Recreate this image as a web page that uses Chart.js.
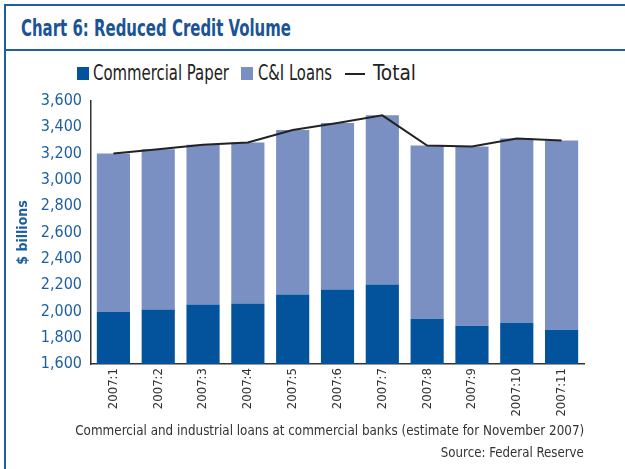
<!DOCTYPE html>
<html>
<head>
<meta charset="utf-8">
<script src="https://cdn.jsdelivr.net/npm/chart.js@4.4.0/dist/chart.umd.min.js"></script>
<style>
  html, body { margin: 0; padding: 0; background: #fff; }
  #page {
    position: relative; width: 625px; height: 469px; overflow: hidden;
    font-family: "Liberation Sans Narrow", "DejaVu Sans Condensed", sans-serif;
  }
  .frame-top { position: absolute; left: 4px; top: 4px; width: 621px; height: 2px; background: #1c5fa5; }
  .frame-left { position: absolute; left: 4px; top: 4px; width: 2px; height: 465px; background: #1c5fa5; }
  .frame-rule { position: absolute; left: 4px; top: 49px; width: 621px; height: 2px; background: #1c5fa5; }
  .txt { position: absolute; white-space: nowrap; transform-origin: left center; }
  #title { left: 21px; top: 15px; font-weight: bold; font-size: 23px; color: #1b5496; }
  .leg { top: 60px; font-size: 22px; color: #222; }
  .sw { position: absolute; top: 67px; width: 12px; height: 13px; }
  .ln { position: absolute; left: 345px; top: 73px; width: 20px; height: 2px; background: #222; }
  .note { font-size: 14.5px; color: #333; transform-origin: right center; }
  #chart-wrap { position: absolute; left: 0; top: 0; width: 625px; height: 469px; }
</style>
</head>
<body>
<div id="page">
  <div class="frame-top"></div>
  <div class="frame-left"></div>
  <div class="frame-rule"></div>
  <div id="title" class="txt" data-w="270">Chart 6: Reduced Credit Volume</div>

  <div class="sw" style="left:77px;background:#02529c"></div>
  <div class="txt leg" style="left:93px" data-w="136">Commercial Paper</div>
  <div class="sw" style="left:241px;background:#7a90c3"></div>
  <div class="txt leg" style="left:258px" data-w="74">C&amp;I Loans</div>
  <div class="ln"></div>
  <div class="txt leg" style="left:373px" data-w="43">Total</div>

  <div id="chart-wrap"><canvas id="chart"></canvas></div>
  <div class="txt note" style="right:41px;top:422px" data-w="509">Commercial and industrial loans at commercial banks (estimate for November 2007)</div>
  <div class="txt note" style="right:41px;top:444px" data-w="143">Source: Federal Reserve</div>
</div>
<script>
  var months = ['2007:1', '2007:2', '2007:3', '2007:4', '2007:5', '2007:6', '2007:7', '2007:8', '2007:9', '2007:10', '2007:11'];
  var commercialPaper = [1998, 2014, 2052, 2060, 2129, 2167, 2205, 1945, 1891, 1914, 1861];
  var ciLoans = [1202, 1219, 1215, 1224, 1250, 1265, 1286, 1316, 1363, 1401, 1439];
  var total = [3200, 3233, 3267, 3284, 3379, 3432, 3491, 3261, 3254, 3315, 3300];
  var yTicks = [1600, 1800, 2000, 2200, 2400, 2600, 2800, 3000, 3200, 3400, 3600];

  var FONT = '"Liberation Sans Narrow", "DejaVu Sans Condensed", sans-serif';

  // condense html text to its set width (no narrow face available)
  document.querySelectorAll('.txt[data-w]').forEach(function (el) {
    var w = el.getBoundingClientRect().width;
    el.style.transform = 'scaleX(' + (Number(el.getAttribute('data-w')) / w) + ')';
  });

  new Chart(document.getElementById('chart'), {
    type: 'bar',
    data: {
      labels: months,
      datasets: [
        {
          label: 'Total', type: 'line', data: total, stack: 'total', order: 0,
          borderColor: '#222', borderWidth: 2, pointRadius: 0, tension: 0, fill: false
        },
        {
          label: 'Commercial Paper', data: commercialPaper, order: 1,
          backgroundColor: '#02529c', barPercentage: 0.74, categoryPercentage: 1
        },
        {
          label: 'C&I Loans', data: ciLoans, order: 1,
          backgroundColor: '#7a90c3', barPercentage: 0.74, categoryPercentage: 1
        }
      ]
    },
    options: {
      responsive: true,
      maintainAspectRatio: false,
      animation: false,
      layout: { padding: { top: 101, right: 41, bottom: 0, left: 0 } },
      plugins: { legend: { display: false }, tooltip: { enabled: false } },
      scales: {
        x: {
          stacked: true,
          grid: { display: false, drawTicks: false },
          border: { color: '#333', width: 1.5 },
          ticks: { color: '#333', font: { family: FONT, size: 13 }, minRotation: 90, maxRotation: 90, padding: 4, autoSkip: false },
          afterFit: function (scale) { scale.height = 105; }
        },
        y: {
          stacked: true,
          min: 1600, max: 3600,
          afterBuildTicks: function (scale) { scale.ticks = yTicks.map(function (v) { return { value: v }; }); },
          grid: { display: false, drawTicks: false },
          border: { color: '#333', width: 1.5 },
          ticks: {
            color: '#1d5fa3', padding: 9, font: { family: FONT, size: 16 },
            callback: function (v) { return Number(v).toLocaleString('en-US'); }
          },
          title: {
            display: true, text: '$ billions', color: '#1d5fa3',
            font: { family: FONT, size: 14, weight: 'bold' }, padding: { top: 15, bottom: 0 }
          },
          afterFit: function (scale) { scale.width = 91; }
        }
      }
    }
  });
</script>
</body>
</html>
